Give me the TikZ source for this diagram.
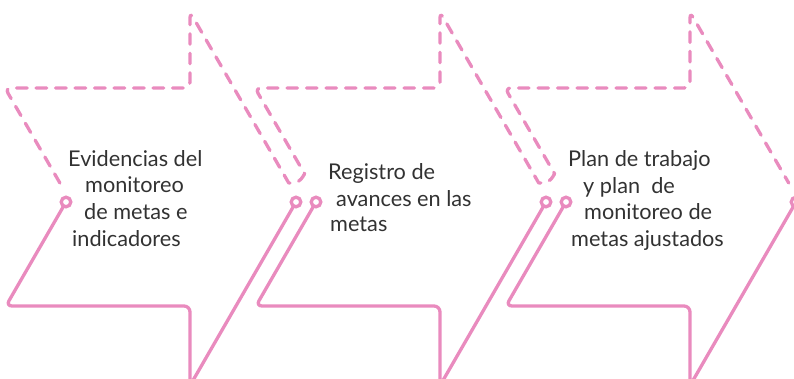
\documentclass[tikz,border=0pt]{standalone}
\usepackage{fontspec}
\setmainfont{Lato}
\definecolor{pinkline}{RGB}{233,139,190}
\definecolor{txtgray}{RGB}{50,50,50}
\begin{document}
\begin{tikzpicture}[x=1pt,y=-1pt,
  outline/.style={draw=pinkline, line width=3.3pt, line cap=round, line join=round, rounded corners=6pt},
  dashline/.style={outline, dash pattern=on 10.5pt off 9pt},
  ring/.style={draw=pinkline, line width=3.3pt},
  lbl/.style={font=\fontsize{21.7}{26}\selectfont, text=txtgray, anchor=base west, inner sep=0pt}]
\useasboundingbox (0,0) rectangle (794,379);
\clip (0,0) rectangle (794,379);
% dashed upper outline, one continuous line through the three arrows
\draw[dashline] (59.9,183) -- (5,88) -- (190,88) -- (190,12) -- (285.85,178)
  arc[start angle=150, end angle=-30, radius=9.15] -- (255,88) -- (440,88) -- (440,12) -- (535.85,178)
  arc[start angle=150, end angle=-30, radius=9.15] -- (505,88) -- (690,88) -- (690,12) -- (788.7,183);
% solid lower outlines with rings
\foreach \ox in {0,250,500}{
  \draw[ring] (66+\ox,202) circle[radius=4.8];
  \draw[ring] (296+\ox,202) circle[radius=4.8];
  \draw[outline] (63.6+\ox,206.16) -- (5.95+\ox,306) -- (190+\ox,306) -- (190+\ox,385.6) -- (293.6+\ox,206.16);
}
% texts
\node[lbl] (a1) at (68,166.7) {Evidencias del};
\node[lbl] (a2) at (85,192.7) {monitoreo};
\node[lbl] (a3) at (84,220) {de metas e};
\node[lbl] (a4) at (72,246.7) {indicadores};
\node[lbl] (b1) at (328,180) {Registro de};
\node[lbl] (b2) at (336,206.7) {avances en las};
\node[lbl] (b3) at (330,231.7) {metas};
\node[lbl] (c1) at (568,166.7) {Plan de trabajo};
\node[lbl] (c2) at (583,193.3) {y plan\ \ de};
\node[lbl] (c3) at (584,220) {monitoreo de};
\node[lbl] (c4) at (571,246.7) {metas ajustados};
\end{tikzpicture}
\end{document}
